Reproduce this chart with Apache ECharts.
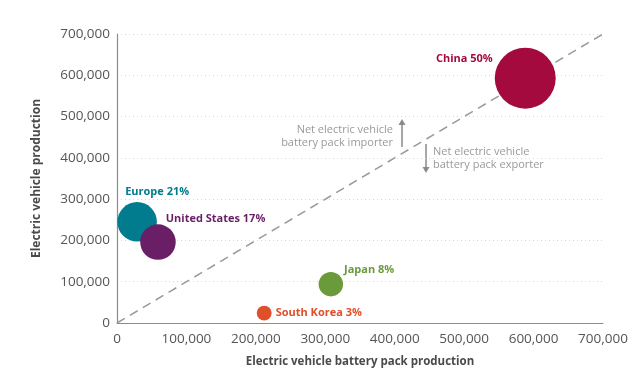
<!DOCTYPE html>
<html>
<head>
<meta charset="utf-8">
<script src="https://cdn.jsdelivr.net/npm/echarts@6/dist/echarts.min.js"></script>
<style>html,body{margin:0;padding:0;background:#fff}#c{width:640px;height:387px}</style>
</head>
<body>
<div id="c"></div>
<script>
var countries = ['China', 'Europe', 'United States', 'Japan', 'South Korea'];
var packProduction = [588000, 29000, 59000, 308000, 212000];
var vehicleProduction = [593000, 245000, 196000, 94000, 24000];
var sharePct = [50, 21, 17, 8, 3];
var colors = ['#a50a3e', '#017b8e', '#6a1e66', '#6b9a3b', '#df4f2a'];
var tickValues = [0, 100000, 200000, 300000, 400000, 500000, 600000, 700000];

var labelPlace = [
  {position: 'left', distance: 2, offset: [0, -19]},
  {position: 'top', distance: 5, offset: [20, 0]},
  {position: 'right', distance: 0, offset: [-10, -23]},
  {position: 'right', distance: 1, offset: [0, -14]},
  {position: 'right', distance: 4, offset: [0, 0]}
];

var FONT = '"Open Sans", "Noto Sans", sans-serif';
var series = countries.map(function (n, i) {
  return {
    type: 'scatter',
    name: n,
    data: [[packProduction[i], vehicleProduction[i]]],
    symbolSize: 8.62 * Math.sqrt(sharePct[i]),
    itemStyle: {color: colors[i], opacity: 1},
    label: {
      show: true,
      formatter: n + ' ' + sharePct[i] + '%',
      position: labelPlace[i].position,
      distance: labelPlace[i].distance,
      offset: labelPlace[i].offset,
      color: colors[i],
      fontWeight: 'bold',
      fontSize: 11,
      fontFamily: FONT
    },
    z: 3
  };
});
series.unshift({
  type: 'line',
  data: [[0, 0], [700000, 700000]],
  symbol: 'none',
  lineStyle: {color: '#9a9a9a', width: 1.5, type: [9, 6]},
  z: 2,
  silent: true
});

var chart = echarts.init(document.getElementById('c'));
var fmt = function (v) { return v === 0 ? '0' : v.toLocaleString('en-US'); };
chart.setOption({
  animation: false,
  grid: {left: 117, right: 37, top: 34, bottom: 64},
  xAxis: {
    type: 'value', min: 0, max: 700000, interval: 100000,
    name: 'Electric vehicle battery pack production',
    nameLocation: 'middle', nameGap: 33,
    nameTextStyle: {color: '#4a4a4a', fontSize: 11.5, fontWeight: 'bold', fontFamily: FONT},
    axisLine: {lineStyle: {color: '#8c8c8c', width: 1.2}},
    axisTick: {show: false},
    splitLine: {show: false},
    axisLabel: {color: '#555', fontSize: 13.5, fontFamily: FONT, margin: 9, formatter: fmt}
  },
  yAxis: {
    type: 'value', min: 0, max: 700000, interval: 100000,
    name: 'Electric vehicle production',
    nameLocation: 'middle', nameGap: 74,
    nameTextStyle: {color: '#4a4a4a', fontSize: 12, fontWeight: 'bold', fontFamily: FONT},
    axisLine: {show: true, lineStyle: {color: '#8c8c8c', width: 1.2}},
    axisTick: {show: false},
    splitLine: {show: true, lineStyle: {color: '#d8d8d8', type: [1, 3], width: 1}},
    axisLabel: {color: '#555', fontSize: 13.5, fontFamily: FONT, margin: 7, formatter: fmt}
  },
  series: series,
  graphic: [
    {type: 'text', x: 393, y: 124, style: {text: 'Net electric vehicle\nbattery pack importer', fill: '#9a9a9a', font: '11px ' + FONT, align: 'right', lineHeight: 12.5}},
    {type: 'line', shape: {x1: 402, y1: 147, x2: 402, y2: 123}, style: {stroke: '#8a8a8a', lineWidth: 1.5}},
    {type: 'polygon', shape: {points: [[398.5, 125], [405.5, 125], [402, 119]]}, style: {fill: '#8a8a8a'}},
    {type: 'text', x: 433, y: 146, style: {text: 'Net electric vehicle\nbattery pack exporter', fill: '#9a9a9a', font: '11px ' + FONT, align: 'left', lineHeight: 12.5}},
    {type: 'line', shape: {x1: 426, y1: 144, x2: 426, y2: 169}, style: {stroke: '#8a8a8a', lineWidth: 1.5}},
    {type: 'polygon', shape: {points: [[422.5, 167], [429.5, 167], [426, 173]]}, style: {fill: '#8a8a8a'}}
  ]
});
</script>
</body>
</html>
